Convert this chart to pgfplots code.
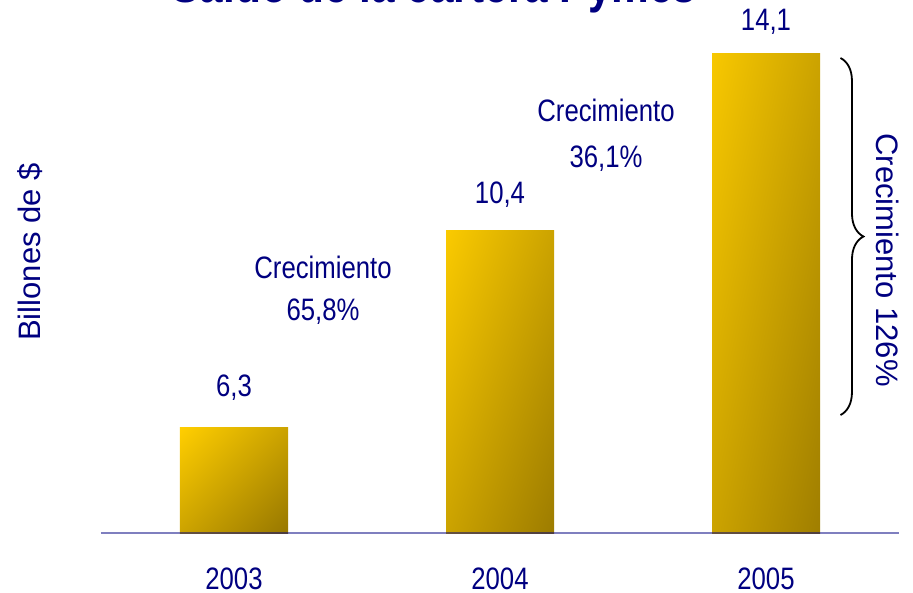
\documentclass[border=0pt]{standalone}
\usepackage{fontspec}
\setmainfont{Liberation Sans}[FakeStretch=0.83]
\newfontfamily\plainfont{Liberation Sans}
\usepackage{pgfplots}
\pgfplotsset{compat=1.18}
\usetikzlibrary{decorations.pathreplacing}
\definecolor{navy}{RGB}{0,0,128}
\definecolor{gold}{RGB}{255,206,0}
\definecolor{darkgold}{RGB}{152,120,0}
\pgfdeclareverticalshading{barshade}{100bp}{color(0bp)=(darkgold); color(15bp)=(darkgold); color(85bp)=(gold); color(100bp)=(gold)}
\begin{document}
\begin{tikzpicture}
\begin{axis}[
  scale only axis, width=399pt, height=266.5pt,
  xmin=-0.5, xmax=2.5, ymin=4.1, ymax=15.2042,
  y coord trafo/.code={\pgfmathparse{#1-4.1}},
  y coord inv trafo/.code={\pgfmathparse{#1+4.1}},
  axis x line*=bottom, axis y line=none,
  x axis line style={draw=navy, draw opacity=0.5, line width=1pt},
  xtick={0,1,2}, xticklabels={2003,2004,2005},
  major tick length=0pt,
  xticklabel style={font=\fontsize{15.5}{18}\selectfont, text=navy, anchor=base, yshift=-28pt},
  ytick=\empty,
  clip mode=individual,
  axis on top,
  barstyle/.style={ybar, bar width=54pt, bar shift=0pt, draw=none, shading=barshade},
]
\addplot[barstyle, shading angle=45] coordinates {(0,6.3)};
\addplot[barstyle, shading angle=70.3] coordinates {(1,10.4)};
\addplot[barstyle, shading angle=77.3] coordinates {(2,14.1)};

\node[anchor=base, text=navy, font=\fontsize{15.5}{18}\selectfont] at (axis cs:0,6.954) {6,3};
\node[anchor=base, text=navy, font=\fontsize{15.5}{18}\selectfont] at (axis cs:1,10.975) {10,4};
\node[anchor=base, text=navy, font=\fontsize{15.5}{18}\selectfont] at (axis cs:2,14.56) {14,1};

\node[anchor=base, text=navy, font=\fontsize{15.5}{18}\selectfont] at (axis cs:0.3346,9.392) {Crecimiento};
\node[anchor=base, text=navy, font=\fontsize{15.5}{18}\selectfont] at (axis cs:0.3346,8.517) {65,8\%};
\node[anchor=base, text=navy, font=\fontsize{15.5}{18}\selectfont] at (axis cs:1.3985,12.683) {Crecimiento};
\node[anchor=base, text=navy, font=\fontsize{15.5}{18}\selectfont] at (axis cs:1.3985,11.725) {36,1\%};

\draw[decorate, decoration={brace, amplitude=11.5pt}, line width=0.9pt] (axis cs:2.28,13.996) -- (axis cs:2.28,6.558);
\node[rotate=-90, text=navy, font=\plainfont\fontsize{15.5}{18}\selectfont] at (axis cs:2.4586,9.7875) {Crecimiento 126\%};
\node[rotate=90, text=navy, font=\plainfont\fontsize{15.5}{18}\selectfont] at (axis cs:-0.765,9.954) {Billones de \$};

\node[anchor=base, text=navy, font=\fontsize{25.5}{30}\selectfont\bfseries] at (axis cs:0.752,15.15) {Saldo de la cartera Pymes};

\coordinate (bbsw) at (axis cs:-0.8797,2.8708);
\coordinate (bbne) at (axis cs:2.5526,15.2042);
\end{axis}
\pgfresetboundingbox
\useasboundingbox (bbsw) rectangle (bbne);
\end{tikzpicture}
\end{document}
